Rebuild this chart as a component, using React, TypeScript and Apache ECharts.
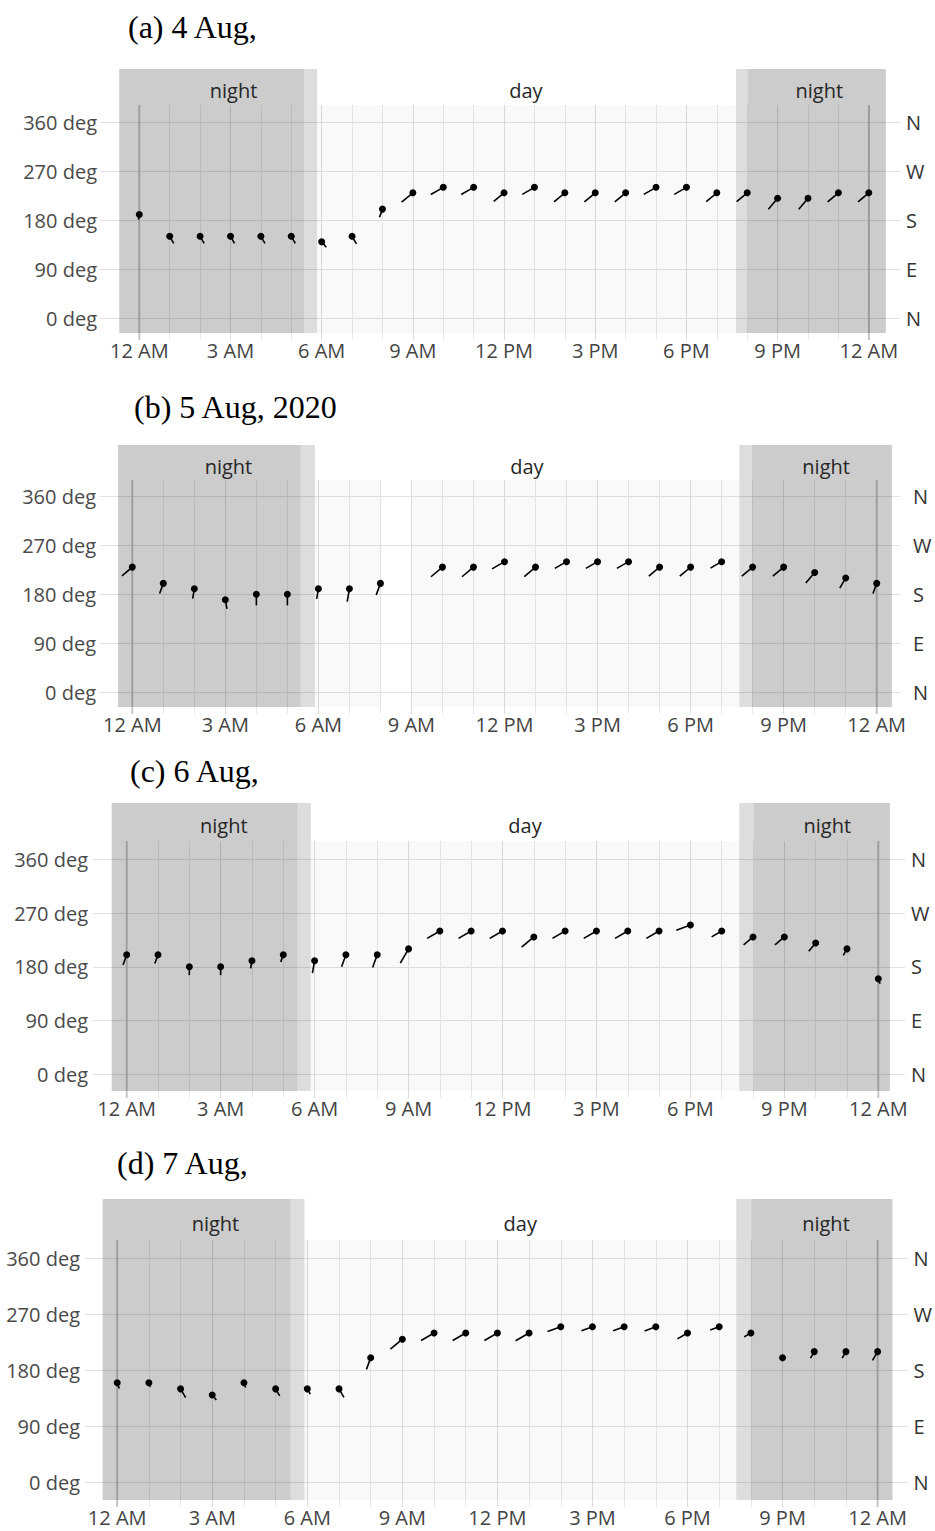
import React, { useEffect, useRef } from "react";
import * as echarts from "echarts";

// ---------- data ----------
const hours = [0, 1, 2, 3, 4, 5, 6, 7, 8, 9, 10, 11, 12, 13, 14, 15, 16, 17, 18, 19, 20, 21, 22, 23, 24];
const midnightHours = [0, 24];
const titles = ["(a) 4 Aug,", "(b) 5 Aug, 2020", "(c) 6 Aug,", "(d) 7 Aug,"];
const xTickHours = [0, 3, 6, 9, 12, 15, 18, 21, 24];
const xTickLabels = ["12 AM", "3 AM", "6 AM", "9 AM", "12 PM", "3 PM", "6 PM", "9 PM", "12 AM"];
const yTickValues = [0, 90, 180, 270, 360];
const yTickLabels = ["0 deg", "90 deg", "180 deg", "270 deg", "360 deg"];
const compassLabels = ["N", "E", "S", "W", "N"];

// wind direction (deg) per hour
const dirA = [190, 150, 150, 150, 150, 150, 140, 150, 200, 230, 240, 240, 230, 240, 230, 230, 230, 240, 240, 230, 230, 220, 220, 230, 230];
const dirB = [230, 200, 190, 170, 180, 180, 190, 190, 200, null, 230, 230, 240, 230, 240, 240, 240, 230, 230, 240, 230, 230, 220, 210, 200];
const dirC = [200, 200, 180, 180, 190, 200, 190, 200, 200, 210, 240, 240, 240, 230, 240, 240, 240, 240, 250, 240, 230, 230, 220, 210, 160];
const dirD = [160, 160, 150, 140, 160, 150, 150, 150, 200, 230, 240, 240, 240, 240, 250, 250, 250, 250, 240, 250, 240, 200, 210, 210, 210];

// wind speed (drawn as the tail length)
const spdA = [1.7, 2.7, 2.7, 2.7, 2.7, 2.7, 2.4, 2.9, 2.9, 4.9, 4.8, 4.8, 4.5, 4.7, 4.7, 4.7, 4.7, 4.7, 4.7, 4.6, 4.6, 4.8, 4.8, 4.7, 4.7];
const spdB = [4.5, 3.6, 3.3, 3.1, 3.7, 3.7, 3.4, 4.3, 4.1, null, 5.0, 5.0, 4.8, 4.9, 4.5, 4.5, 4.5, 4.7, 4.7, 4.3, 4.7, 4.7, 4.6, 3.9, 3.6];
const spdC = [3.6, 3.1, 2.8, 2.8, 2.6, 2.5, 4.2, 4.2, 4.5, 5.5, 4.9, 4.9, 4.9, 5.3, 4.9, 4.9, 4.9, 4.9, 5.0, 3.9, 4.1, 4.1, 3.6, 2.5, 1.8];
const spdD = [2.1, 1.5, 3.4, 2.1, 1.7, 2.7, 2.0, 3.3, 4.1, 5.2, 5.0, 5.0, 5.0, 5.2, 4.7, 3.9, 3.9, 4.0, 3.9, 3.2, 2.6, 0.7, 2.5, 2.5, 3.4];

// day / night periods (hours)
const periodsA: [number, number, string][] = [[-0.66, 5.42, "night"], [5.42, 5.85, "twilight"], [5.85, 19.63, "day"], [19.63, 20.02, "twilight"], [20.02, 24.56, "night"]];
const periodsB: [number, number, string][] = [[-0.46, 5.43, "night"], [5.43, 5.89, "twilight"], [5.89, 8.05, "day"], [9.0, 19.57, "day"], [19.57, 19.98, "twilight"], [19.98, 24.49, "night"]];
const periodsC: [number, number, string][] = [[-0.48, 5.45, "night"], [5.45, 5.88, "twilight"], [5.88, 19.56, "day"], [19.56, 20.03, "twilight"], [20.03, 24.37, "night"]];
const periodsD: [number, number, string][] = [[-0.46, 5.47, "night"], [5.47, 5.91, "twilight"], [5.91, 19.54, "day"], [19.54, 20.01, "twilight"], [20.01, 24.47, "night"]];

const periodLabelHours = [3.1, 12.72, 22.37];
const periodLabelTexts = ["night", "day", "night"];

// ---------- layout / style ----------
const layouts = [
  { left: 100, right: 900, top: 105, bottom: 340, x0: 139.3, x24: 868.8, y0: 318, y360: 122, nightExt: 36, labelGap: 15, titleX: 128, titleY: 11, yMargin: 3, rMargin: 6 },
  { left: 100, right: 900, top: 480, bottom: 714, x0: 132.3, x24: 876.7, y0: 692, y360: 496.5, nightExt: 35, labelGap: 14, titleX: 134, titleY: 391, yMargin: 4, rMargin: 13 },
  { left: 93, right: 905, top: 841, bottom: 1098, x0: 126.7, x24: 878.3, y0: 1074, y360: 859.5, nightExt: 38, labelGap: 16, titleX: 130, titleY: 755, yMargin: 5, rMargin: 6 },
  { left: 85, right: 910, top: 1240, bottom: 1507, x0: 117.3, x24: 880, y0: 1482, y360: 1258.5, nightExt: 41, labelGap: 17, titleX: 117, titleY: 1147, yMargin: 5, rMargin: 6 },
];

const panels = [
  { title: titles[0], dirs: dirA, speeds: spdA, periods: periodsA },
  { title: titles[1], dirs: dirB, speeds: spdB, periods: periodsB },
  { title: titles[2], dirs: dirC, speeds: spdC, periods: periodsC },
  { title: titles[3], dirs: dirD, speeds: spdD, periods: periodsD },
];

const FONT = "'Open Sans', 'Noto Sans', sans-serif";
const fills: Record<string, string> = {
  night: "rgba(0,0,0,0.2)",
  twilight: "rgba(0,0,0,0.135)",
  day: "rgba(0,0,0,0.022)",
};
const TAIL_SCALE = 3;
const SHADE_INSET = 7;

const xSplitColors = hours.map((h) => (h % 3 === 0 ? "#dcdcdc" : "#e9e9e9"));

function buildOption() {
  const grid: any[] = [];
  const xAxis: any[] = [];
  const yAxis: any[] = [];
  const series: any[] = [];
  const title: any[] = [];

  panels.forEach((p, i) => {
    const L = layouts[i];
    const hw = (L.x24 - L.x0) / 24;
    const xMin = (L.left - L.x0) / hw;
    const xMax = (L.right - L.x0) / hw;
    const dpp = (L.y0 - L.y360) / 360;
    const yMax = (L.y0 - L.top) / dpp;
    const yMin = (L.y0 - L.bottom) / dpp;

    grid.push({ left: L.left, top: L.top, width: L.right - L.left, height: L.bottom - L.top, containLabel: false });
    title.push({
      text: p.title,
      left: L.titleX,
      top: L.titleY,
      padding: 0,
      textStyle: { fontFamily: "'Liberation Serif', 'Times New Roman', serif", fontSize: 32, fontWeight: "normal", color: "#000" },
    });

    xAxis.push({
      type: "value",
      gridIndex: i,
      min: xMin,
      max: xMax,
      axisLine: { show: false, onZero: false },
      axisTick: { show: false, customValues: hours },
      splitLine: { show: true, lineStyle: { color: xSplitColors, width: 1 } },
      axisLabel: {
        customValues: xTickHours,
        formatter: (v: number) => xTickLabels[Math.round(v / 3)],
        margin: 0,
        fontSize: 20,
        fontFamily: FONT,
        color: "#444",
      },
    });
    yAxis.push({
      type: "value",
      gridIndex: i,
      min: yMin,
      max: yMax,
      position: "left",
      axisLine: { show: false, onZero: false },
      axisTick: { show: false, customValues: yTickValues },
      splitLine: { show: true, lineStyle: { color: "#e2e2e2", width: 1 } },
      axisLabel: {
        customValues: yTickValues,
        formatter: (v: number) => yTickLabels[Math.round(v / 90)],
        margin: L.yMargin,
        fontSize: 20,
        fontFamily: FONT,
        color: "#4a4a4a",
      },
    });
    yAxis.push({
      type: "value",
      gridIndex: i,
      min: yMin,
      max: yMax,
      position: "right",
      axisLine: { show: false, onZero: false },
      axisTick: { show: false, customValues: yTickValues },
      splitLine: { show: false },
      axisLabel: {
        customValues: yTickValues,
        formatter: (v: number) => compassLabels[Math.round(v / 90)],
        margin: L.rMargin,
        fontSize: 20,
        fontFamily: FONT,
        color: "#333",
      },
    });

    // midnight reference lines (under the shading)
    series.push({
      type: "custom",
      xAxisIndex: i,
      yAxisIndex: i * 2,
      z: 0.5,
      clip: false,
      silent: true,
      data: midnightHours.map((h) => [h, 0]),
      renderItem: (params: any, api: any) => {
        const cs = params.coordSys;
        const c = api.coord([api.value(0), 0]);
        return {
          type: "line",
          shape: { x1: c[0], y1: cs.y, x2: c[0], y2: cs.y + cs.height },
          style: { stroke: "#c2c2c2", lineWidth: 1.8 },
        };
      },
    });

    const periods = p.periods;
    series.push({
      type: "custom",
      xAxisIndex: i,
      yAxisIndex: i * 2,
      z: 1,
      clip: false,
      silent: true,
      data: periods.map((q) => [q[0], q[1]]),
      renderItem: (params: any, api: any) => {
        const cs = params.coordSys;
        const kind = periods[params.dataIndex][2];
        const a = api.coord([api.value(0), 0]);
        const b = api.coord([api.value(1), 0]);
        const top = kind === "day" ? cs.y : cs.y - L.nightExt;
        const bottom = cs.y + cs.height - SHADE_INSET;
        return {
          type: "rect",
          shape: { x: a[0], y: top, width: b[0] - a[0], height: bottom - top },
          style: { fill: fills[kind] },
        };
      },
    });

    series.push({
      type: "custom",
      xAxisIndex: i,
      yAxisIndex: i * 2,
      z: 3,
      clip: false,
      silent: true,
      data: periodLabelHours.map((h) => [h, 0]),
      renderItem: (params: any, api: any) => {
        const cs = params.coordSys;
        const c = api.coord([api.value(0), 0]);
        return {
          type: "text",
          style: {
            text: periodLabelTexts[params.dataIndex],
            x: c[0],
            y: cs.y - L.labelGap,
            align: "center",
            verticalAlign: "middle",
            fontSize: 20,
            fontFamily: FONT,
            fill: "#262626",
          },
        };
      },
    });

    const pts: number[][] = [];
    hours.forEach((h, k) => {
      const d = p.dirs[k];
      const s = p.speeds[k];
      if (d !== null && s !== null) pts.push([h, d as number, s as number]);
    });
    series.push({
      type: "custom",
      xAxisIndex: i,
      yAxisIndex: i * 2,
      z: 4,
      clip: false,
      silent: true,
      data: pts,
      renderItem: (params: any, api: any) => {
        const d = api.value(1);
        const s = api.value(2);
        const c = api.coord([api.value(0), d]);
        const len = s * TAIL_SCALE;
        const rad = (d * Math.PI) / 180;
        return {
          type: "group",
          children: [
            {
              type: "line",
              shape: { x1: c[0], y1: c[1], x2: c[0] + len * Math.sin(rad), y2: c[1] - len * Math.cos(rad) },
              style: { stroke: "#000", lineWidth: 1.6 },
            },
            { type: "circle", shape: { cx: c[0], cy: c[1], r: 3.5 }, style: { fill: "#000" } },
          ],
        };
      },
    });
  });

  return { animation: false, backgroundColor: "#fff", title, grid, xAxis, yAxis, series };
}

export default function App() {
  const ref = useRef<HTMLDivElement>(null);
  useEffect(() => {
    if (!ref.current) return;
    const chart = echarts.init(ref.current, undefined, { renderer: "svg" });
    chart.setOption(buildOption() as any);
    return () => chart.dispose();
  }, []);
  return (
    <div
      ref={ref}
      style={{ position: "absolute", left: 0, top: 0, width: "935px", height: "1531px", background: "#fff" }}
    />
  );
}
